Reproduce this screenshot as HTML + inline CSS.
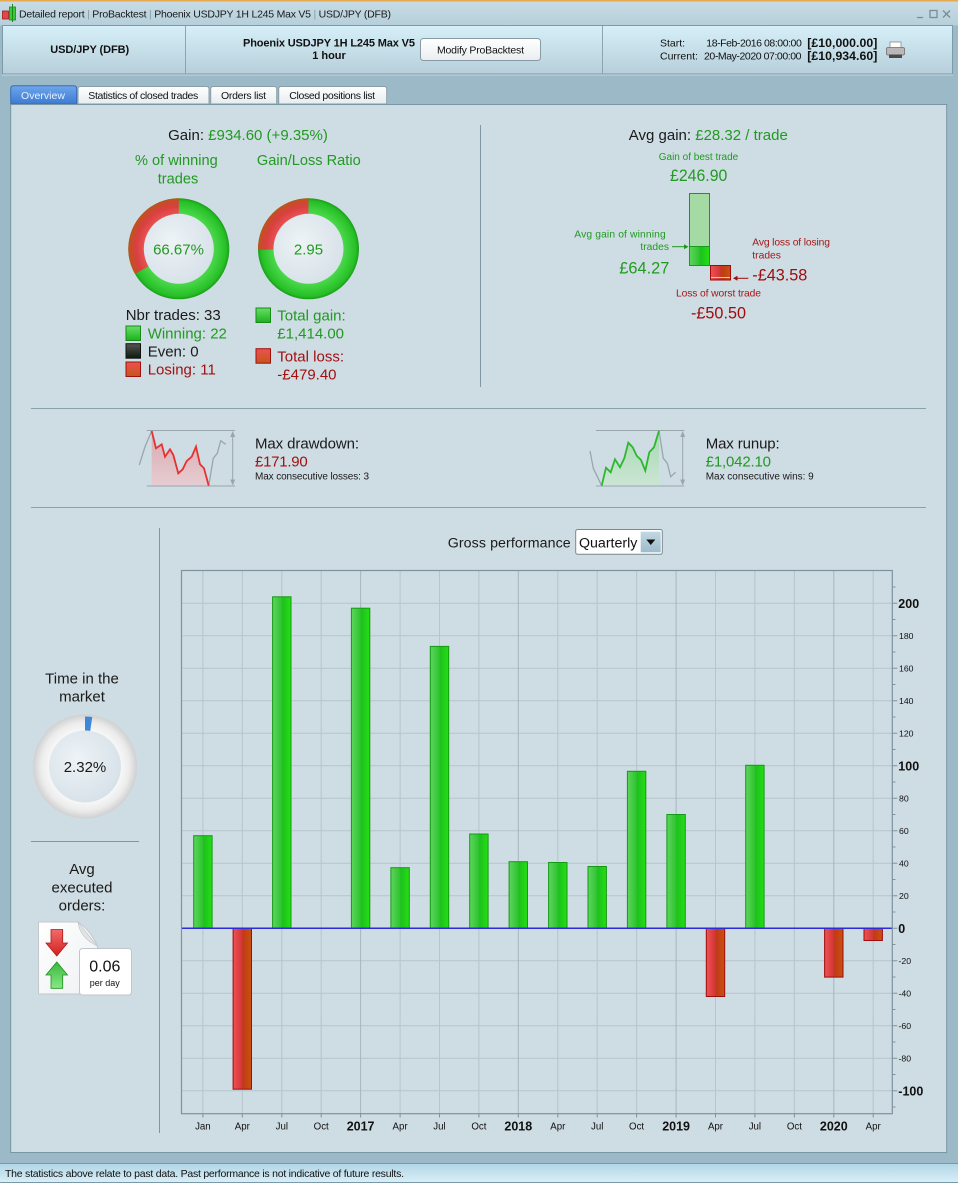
<!DOCTYPE html>
<html><head><meta charset="utf-8"><title>Detailed report</title>
<style>
html,body{margin:0;padding:0;background:#9cb9c7;width:958px;height:1183px;overflow:hidden;}
svg{display:block;font-family:"Liberation Sans",Arial,sans-serif;}
</style></head><body>
<svg width="958" height="1183" viewBox="0 0 958 1183" xmlns="http://www.w3.org/2000/svg">
<defs>
<linearGradient id="gTitle" x1="0" y1="0" x2="0" y2="1"><stop offset="0" stop-color="#c8dde6"/><stop offset="1" stop-color="#b6cfda"/></linearGradient>
<linearGradient id="gHdr" x1="0" y1="0" x2="0" y2="1"><stop offset="0" stop-color="#d6eff8"/><stop offset="1" stop-color="#b6cfda"/></linearGradient>
<linearGradient id="gBtn" x1="0" y1="0" x2="0" y2="1"><stop offset="0" stop-color="#ffffff"/><stop offset="1" stop-color="#eaeef0"/></linearGradient>
<linearGradient id="gTabB" x1="0" y1="0" x2="0" y2="1"><stop offset="0" stop-color="#6ea6ec"/><stop offset="1" stop-color="#3c7bd2"/></linearGradient>
<linearGradient id="gTabW" x1="0" y1="0" x2="0" y2="1"><stop offset="0" stop-color="#ffffff"/><stop offset="1" stop-color="#e6ecef"/></linearGradient>
<linearGradient id="gStatus" x1="0" y1="0" x2="0" y2="1"><stop offset="0" stop-color="#b2d6e6"/><stop offset="1" stop-color="#d8eef7"/></linearGradient>
<linearGradient id="gSel" x1="0" y1="0" x2="0" y2="1"><stop offset="0" stop-color="#c2d8e2"/><stop offset="1" stop-color="#9dbccb"/></linearGradient>
<linearGradient id="gGB" x1="0" y1="0" x2="1" y2="0"><stop offset="0" stop-color="#5cd65c"/><stop offset="0.45" stop-color="#34c434"/><stop offset="0.55" stop-color="#1cc21c"/><stop offset="1" stop-color="#26de14"/></linearGradient>
<linearGradient id="gRB" x1="0" y1="0" x2="1" y2="0"><stop offset="0" stop-color="#ee5252"/><stop offset="0.45" stop-color="#d43838"/><stop offset="0.55" stop-color="#c03a18"/><stop offset="1" stop-color="#c9520e"/></linearGradient>
<linearGradient id="gSqG" x1="0" y1="0" x2="0" y2="1"><stop offset="0" stop-color="#66e066"/><stop offset="1" stop-color="#1eb01e"/></linearGradient>
<linearGradient id="gSqK" x1="0" y1="0" x2="0" y2="1"><stop offset="0" stop-color="#555"/><stop offset="1" stop-color="#0c1a0c"/></linearGradient>
<linearGradient id="gSqR" x1="0" y1="0" x2="0" y2="1"><stop offset="0" stop-color="#ee5050"/><stop offset="1" stop-color="#c4561a"/></linearGradient>
<radialGradient id="gRing1" gradientUnits="userSpaceOnUse" cx="178.8" cy="248.8" r="50.5"><stop offset="0.69" stop-color="#4cd84c"/><stop offset="0.82" stop-color="#38cc38"/><stop offset="0.94" stop-color="#26bf26"/><stop offset="1" stop-color="#1a9e1a"/></radialGradient>
<radialGradient id="gRed1" gradientUnits="userSpaceOnUse" cx="178.8" cy="248.8" r="50.5"><stop offset="0.69" stop-color="#ea5252"/><stop offset="0.85" stop-color="#d84040"/><stop offset="1" stop-color="#c0521c"/></radialGradient>
<radialGradient id="gRing2" gradientUnits="userSpaceOnUse" cx="308.5" cy="248.8" r="50.5"><stop offset="0.69" stop-color="#4cd84c"/><stop offset="0.82" stop-color="#38cc38"/><stop offset="0.94" stop-color="#26bf26"/><stop offset="1" stop-color="#1a9e1a"/></radialGradient>
<radialGradient id="gRed2" gradientUnits="userSpaceOnUse" cx="308.5" cy="248.8" r="50.5"><stop offset="0.69" stop-color="#ea5252"/><stop offset="0.85" stop-color="#d84040"/><stop offset="1" stop-color="#c0521c"/></radialGradient>
<radialGradient id="gInner" cx="0.4" cy="0.4" r="0.65"><stop offset="0" stop-color="#eef3f6"/><stop offset="1" stop-color="#d6e1e8"/></radialGradient>
<radialGradient id="gRingT" gradientUnits="userSpaceOnUse" cx="85" cy="766.5" r="52"><stop offset="0.69" stop-color="#f7f7f7"/><stop offset="0.85" stop-color="#ececec"/><stop offset="1" stop-color="#d0d0d0"/></radialGradient>
<linearGradient id="gDD" x1="0" y1="0" x2="0" y2="1"><stop offset="0" stop-color="#d8a8b0"/><stop offset="1" stop-color="#e6cdd1"/></linearGradient>
<linearGradient id="gRU" x1="0" y1="0" x2="0" y2="1"><stop offset="0" stop-color="#a6d8b2"/><stop offset="1" stop-color="#cbe6d4"/></linearGradient>
<linearGradient id="gArrR" x1="0" y1="0" x2="0" y2="1"><stop offset="0" stop-color="#f26a6a"/><stop offset="1" stop-color="#d42020"/></linearGradient>
<linearGradient id="gArrG" x1="0" y1="0" x2="0" y2="1"><stop offset="0" stop-color="#3cb83c"/><stop offset="1" stop-color="#86e886"/></linearGradient>
<linearGradient id="gDoc" x1="0" y1="0" x2="1" y2="1"><stop offset="0" stop-color="#ffffff"/><stop offset="1" stop-color="#eef0f2"/></linearGradient>
<clipPath id="plotClip"><rect x="181.5" y="570.5" width="710.8" height="543.2"/></clipPath>
</defs>

<!-- window background -->
<rect x="0" y="0" width="958" height="1183" fill="#9cb9c7"/>

<!-- title bar -->
<rect x="0" y="0" width="958" height="25.5" fill="url(#gTitle)"/>
<rect x="0" y="0" width="958" height="1.5" fill="#e8a850"/>
<rect x="2.5" y="11" width="6" height="8" fill="#e04848" stroke="#a01818" stroke-width="0.8"/>
<rect x="9.5" y="7" width="6" height="13" fill="#3cc83c" stroke="#188a18" stroke-width="0.8"/>
<line x1="12.5" y1="4" x2="12.5" y2="22" stroke="#188a18" stroke-width="1"/>
<text x="19" y="17.5" font-size="10.5" fill="#1a1a1a" textLength="372" lengthAdjust="spacing">Detailed report <tspan fill="#8a9aa2">|</tspan> ProBacktest <tspan fill="#8a9aa2">|</tspan> Phoenix USDJPY 1H L245 Max V5 <tspan fill="#8a9aa2">|</tspan> USD/JPY (DFB)</text>
<g stroke="#7b8c96" stroke-width="1.3" fill="none">
<line x1="917" y1="17.5" x2="923" y2="17.5"/>
<rect x="930" y="10.5" width="7" height="7"/>
<line x1="943" y1="10.5" x2="950" y2="17.5"/><line x1="950" y1="10.5" x2="943" y2="17.5"/>
</g>

<!-- header row -->
<rect x="2.5" y="25.5" width="950" height="48.5" fill="url(#gHdr)" stroke="#7d9aa8" stroke-width="1"/>
<line x1="185.5" y1="26" x2="185.5" y2="74" stroke="#8aa4b0" stroke-width="1"/>
<line x1="602.5" y1="26" x2="602.5" y2="74" stroke="#8aa4b0" stroke-width="1"/>
<line x1="2" y1="75" x2="953" y2="75" stroke="#c8dce5" stroke-width="1"/>
<text x="89.7" y="53" font-size="11" font-weight="bold" fill="#111" text-anchor="middle" textLength="79" lengthAdjust="spacing">USD/JPY (DFB)</text>
<text x="329" y="46.5" font-size="11" font-weight="bold" fill="#111" text-anchor="middle" textLength="172" lengthAdjust="spacing">Phoenix USDJPY 1H L245 Max V5</text>
<text x="329" y="59" font-size="11" font-weight="bold" fill="#111" text-anchor="middle">1 hour</text>
<rect x="420.5" y="38.5" width="120" height="22" rx="3" fill="url(#gBtn)" stroke="#8a9aa4" stroke-width="1"/>
<text x="480.5" y="53.3" font-size="10.5" fill="#111" text-anchor="middle" textLength="87" lengthAdjust="spacing">Modify ProBacktest</text>
<text x="660" y="46.5" font-size="10.5" fill="#111">Start:</text>
<text x="706.3" y="46.5" font-size="10.5" fill="#111" textLength="95.5" lengthAdjust="spacing">18-Feb-2016 08:00:00</text>
<text x="807.3" y="47" font-size="12.3" font-weight="bold" fill="#111" textLength="70" lengthAdjust="spacing">[£10,000.00]</text>
<text x="660" y="59.3" font-size="10.5" fill="#111">Current:</text>
<text x="704" y="59.3" font-size="10.5" fill="#111" textLength="97.5" lengthAdjust="spacing">20-May-2020 07:00:00</text>
<text x="807.3" y="59.8" font-size="12.3" font-weight="bold" fill="#111" textLength="70" lengthAdjust="spacing">[£10,934.60]</text>
<!-- printer -->
<rect x="890" y="42" width="11" height="6" fill="#fff" stroke="#8a8a8a" stroke-width="0.8"/>
<rect x="886.5" y="47.5" width="18" height="7.5" rx="1.5" fill="#b8b8b8" stroke="#6e6e6e" stroke-width="0.8"/>
<rect x="889" y="54.5" width="13" height="3.5" fill="#4a4a4a"/>

<!-- tabs -->
<path d="M10.7,104 V88.7 Q10.7,85.7 13.7,85.7 H73.7 Q76.7,85.7 76.7,88.7 V104 Z" fill="url(#gTabB)" stroke="#3a6cb0" stroke-width="1"/>
<text x="21" y="99" font-size="10.5" fill="#e8f0ff" textLength="44" lengthAdjust="spacing">Overview</text>
<path d="M78,104 V89 Q78,86.5 80.5,86.5 H206.5 Q209,86.5 209,89 V104 Z" fill="url(#gTabW)" stroke="#8a9ea8" stroke-width="1"/>
<text x="88.3" y="99" font-size="10.5" fill="#111" textLength="110" lengthAdjust="spacing">Statistics of closed trades</text>
<path d="M210.7,104 V89 Q210.7,86.5 213.2,86.5 H274.2 Q276.7,86.5 276.7,89 V104 Z" fill="url(#gTabW)" stroke="#8a9ea8" stroke-width="1"/>
<text x="221" y="99" font-size="10.5" fill="#111" textLength="45" lengthAdjust="spacing">Orders list</text>
<path d="M278.7,104 V89 Q278.7,86.5 281.2,86.5 H384.2 Q386.7,86.5 386.7,89 V104 Z" fill="url(#gTabW)" stroke="#8a9ea8" stroke-width="1"/>
<text x="289.3" y="99" font-size="10.5" fill="#111" textLength="85.7" lengthAdjust="spacing">Closed positions list</text>

<!-- main panel -->
<rect x="10.7" y="104.5" width="936" height="1048" fill="#cedce3" stroke="#7896a4" stroke-width="1"/>

<!-- status bar -->
<line x1="0" y1="1163.5" x2="958" y2="1163.5" stroke="#7b98a6" stroke-width="1"/>
<rect x="0" y="1164" width="958" height="18" fill="url(#gStatus)"/>
<line x1="0" y1="1182.5" x2="958" y2="1182.5" stroke="#7b98a6" stroke-width="1"/>
<text x="5" y="1177" font-size="10.5" fill="#111" textLength="399" lengthAdjust="spacing">The statistics above relate to past data. Past performance is not indicative of future results.</text>

<!-- ======= Top-left stats ======= -->
<text x="248" y="140" font-size="15" fill="#1a1a1a" text-anchor="middle">Gain: <tspan fill="#219a21">£934.60 (+9.35%)</tspan></text>
<text x="176.4" y="165" font-size="14.6" fill="#219a21" text-anchor="middle">% of winning</text>
<text x="178" y="183.5" font-size="14.6" fill="#219a21" text-anchor="middle">trades</text>
<text x="308.8" y="165" font-size="14.6" fill="#219a21" text-anchor="middle">Gain/Loss Ratio</text>

<!-- donut 1 -->
<circle cx="178.8" cy="248.8" r="50.5" fill="url(#gRing1)"/>
<path d="M178.8,248.8 L135.07,274.05 A50.5,50.5 0 0 1 178.8,198.3 Z" fill="url(#gRed1)"/>
<circle cx="178.8" cy="248.8" r="35" fill="url(#gInner)"/>
<text x="178.5" y="254.5" font-size="15" fill="#219a21" text-anchor="middle">66.67%</text>
<!-- donut 2 -->
<circle cx="308.5" cy="248.8" r="50.5" fill="url(#gRing2)"/>
<path d="M308.5,248.8 L258.01,249.86 A50.5,50.5 0 0 1 308.5,198.3 Z" fill="url(#gRed2)"/>
<circle cx="308.5" cy="248.8" r="35" fill="url(#gInner)"/>
<text x="308.5" y="254.5" font-size="15" fill="#219a21" text-anchor="middle">2.95</text>

<text x="125.7" y="320" font-size="15" fill="#1a1a1a">Nbr trades: 33</text>
<rect x="126" y="326" width="14.5" height="14.5" fill="url(#gSqG)" stroke="#188a18" stroke-width="1"/>
<text x="147.7" y="338.3" font-size="15" fill="#219a21">Winning: 22</text>
<rect x="126" y="343.7" width="14.5" height="14.5" fill="url(#gSqK)" stroke="#111" stroke-width="1"/>
<text x="147.7" y="356.7" font-size="15" fill="#1a1a1a">Even: 0</text>
<rect x="126" y="362" width="14.5" height="14.5" fill="url(#gSqR)" stroke="#a01010" stroke-width="1"/>
<text x="147.7" y="374.3" font-size="15" fill="#a31010">Losing: 11</text>

<rect x="256" y="308" width="14.5" height="14.5" fill="url(#gSqG)" stroke="#188a18" stroke-width="1"/>
<text x="277.3" y="320.7" font-size="15" fill="#219a21">Total gain:</text>
<text x="277.3" y="338.3" font-size="15" fill="#219a21">£1,414.00</text>
<rect x="256" y="348.7" width="14.5" height="14.5" fill="url(#gSqR)" stroke="#a01010" stroke-width="1"/>
<text x="277.3" y="361.7" font-size="15" fill="#a31010">Total loss:</text>
<text x="277.3" y="379.3" font-size="15" fill="#a31010">-£479.40</text>

<!-- divider vertical -->
<line x1="480.5" y1="125" x2="480.5" y2="387" stroke="#7f98a4" stroke-width="1"/>

<!-- ======= Avg gain ======= -->
<text x="708.3" y="140" font-size="15" fill="#1a1a1a" text-anchor="middle">Avg gain: <tspan fill="#219a21">£28.32 / trade</tspan></text>
<text x="698.5" y="160" font-size="10" fill="#219a21" text-anchor="middle">Gain of best trade</text>
<text x="698.7" y="181" font-size="17" fill="#219a21" text-anchor="middle" textLength="57.3" lengthAdjust="spacingAndGlyphs">£246.90</text>
<rect x="689.5" y="193.5" width="20" height="53" fill="#a4dba4" stroke="#1a9a1a" stroke-width="1"/>
<rect x="689.5" y="246.5" width="20" height="19" fill="url(#gGB)" stroke="#1a9a1a" stroke-width="1"/>
<rect x="710.5" y="265.5" width="20" height="14.5" fill="url(#gRB)" stroke="#a00c0c" stroke-width="1"/>
<line x1="711" y1="277.5" x2="730" y2="277.5" stroke="#f2c0c0" stroke-width="1"/>
<line x1="672" y1="246.7" x2="685" y2="246.7" stroke="#1a9a1a" stroke-width="1"/>
<path d="M688.5,246.7 L684,244.2 L684,249.2 Z" fill="#1a9a1a"/>
<text x="574.3" y="237.7" font-size="10.3" fill="#219a21" textLength="91.4" lengthAdjust="spacing">Avg gain of winning</text>
<text x="669" y="250" font-size="10.3" fill="#219a21" text-anchor="end">trades</text>
<text x="619.3" y="273.3" font-size="17" fill="#219a21" textLength="50" lengthAdjust="spacingAndGlyphs">£64.27</text>
<text x="752.3" y="245.7" font-size="10.3" fill="#a31818" textLength="77.7" lengthAdjust="spacing">Avg loss of losing</text>
<text x="752.3" y="258.3" font-size="10.3" fill="#a31818">trades</text>
<line x1="737" y1="278.3" x2="748.3" y2="278.3" stroke="#a00c0c" stroke-width="1"/>
<path d="M733,278.3 L737.5,275.8 L737.5,280.8 Z" fill="#a00c0c"/>
<text x="752.3" y="280.7" font-size="17" fill="#a00c0c" textLength="55" lengthAdjust="spacingAndGlyphs">-£43.58</text>
<text x="718.5" y="296.7" font-size="10.3" fill="#a31818" text-anchor="middle" textLength="85" lengthAdjust="spacing">Loss of worst trade</text>
<text x="718.5" y="318.3" font-size="17" fill="#a00c0c" text-anchor="middle" textLength="55" lengthAdjust="spacingAndGlyphs">-£50.50</text>

<!-- horizontal dividers -->
<line x1="31" y1="408.5" x2="926" y2="408.5" stroke="#8aa0ab" stroke-width="1"/>
<line x1="31" y1="507.5" x2="926" y2="507.5" stroke="#8aa0ab" stroke-width="1"/>

<!-- ======= Drawdown ======= -->
<path d="M151.7,431 L156,448.3 L161.7,444.3 L165,456.7 L170,449.3 L173.3,455 L178.3,473.3 L182.7,469.3 L186.7,461 L191.7,456.7 L196,446.7 L200,464.3 L204,468.3 L208.7,485.7 L208.7,486 L151.7,486 Z" fill="url(#gDD)"/>
<g stroke="#9aa6ac" stroke-width="1" fill="none">
<line x1="146.7" y1="430.5" x2="235" y2="430.5"/>
<line x1="146.7" y1="486" x2="235" y2="486"/>
<line x1="232.7" y1="434" x2="232.7" y2="483"/>
<polyline points="139.3,465 145,446.7 151.7,431" stroke-width="1.3"/>
<polyline points="208.7,485.7 213.3,458.3 217.3,453.3 220.7,440.7 225.7,444.3" stroke-width="1.3"/>
</g>
<path d="M232.7,431 L230.2,437 L235.2,437 Z M232.7,485.5 L230.2,479.5 L235.2,479.5 Z" fill="#9aa6ac"/>
<polyline points="151.7,431 156,448.3 161.7,444.3 165,456.7 170,449.3 173.3,455 178.3,473.3 182.7,469.3 186.7,461 191.7,456.7 196,446.7 200,464.3 204,468.3 208.7,485.7" fill="none" stroke="#e83030" stroke-width="1.8"/>
<text x="255" y="448.3" font-size="15" fill="#1a1a1a" textLength="104" lengthAdjust="spacing">Max drawdown:</text>
<text x="255" y="466.7" font-size="15" fill="#a31010" textLength="52.7" lengthAdjust="spacing">£171.90</text>
<text x="255" y="479.3" font-size="10" fill="#1a1a1a" textLength="114" lengthAdjust="spacing">Max consecutive losses: 3</text>

<!-- ======= Runup ======= -->
<path d="M601.7,485.7 L606,467.7 L610.7,472.3 L615,459.3 L620,467.3 L624.3,458.3 L628.3,442.7 L632.7,447.3 L636.7,455.7 L641,460 L645.3,470.7 L649.3,452.3 L654,447.3 L659,430.7 L659,486 L601.7,486 Z" fill="url(#gRU)"/>
<g stroke="#9aa6ac" stroke-width="1" fill="none">
<line x1="596" y1="430.5" x2="684.3" y2="430.5"/>
<line x1="596" y1="486" x2="684.3" y2="486"/>
<line x1="682.7" y1="434" x2="682.7" y2="483"/>
<polyline points="590,451 593.3,468.3 601.7,485.7" stroke-width="1.3"/>
<polyline points="659,430.7 663.3,458.3 667.3,463.3 670.7,476.7 675.7,472.3" stroke-width="1.3"/>
</g>
<path d="M682.7,431 L680.2,437 L685.2,437 Z M682.7,485.5 L680.2,479.5 L685.2,479.5 Z" fill="#9aa6ac"/>
<polyline points="601.7,485.7 606,467.7 610.7,472.3 615,459.3 620,467.3 624.3,458.3 628.3,442.7 632.7,447.3 636.7,455.7 641,460 645.3,470.7 649.3,452.3 654,447.3 659,430.7" fill="none" stroke="#2cb82c" stroke-width="1.8"/>
<text x="705.7" y="448.3" font-size="15" fill="#1a1a1a" textLength="74" lengthAdjust="spacing">Max runup:</text>
<text x="705.7" y="466.7" font-size="15" fill="#219a21" textLength="65.3" lengthAdjust="spacing">£1,042.10</text>
<text x="705.7" y="479.3" font-size="10" fill="#1a1a1a" textLength="108" lengthAdjust="spacing">Max consecutive wins: 9</text>

<!-- ======= Left column ======= -->
<line x1="159.5" y1="528" x2="159.5" y2="1133" stroke="#7d98a5" stroke-width="1"/>
<text x="82" y="683.3" font-size="15" fill="#1a1a1a" text-anchor="middle">Time in the</text>
<text x="82" y="701.7" font-size="15" fill="#1a1a1a" text-anchor="middle">market</text>
<circle cx="85" cy="766.5" r="52" fill="url(#gRingT)"/>
<path d="M85,766.5 L85,716.5 A50,50 0 0 1 92.26,717.03 Z" fill="#3f88d8"/>
<circle cx="85" cy="766.5" r="36" fill="url(#gInner)"/>
<text x="85" y="772" font-size="15" fill="#1a1a1a" text-anchor="middle">2.32%</text>
<line x1="31" y1="841.5" x2="139" y2="841.5" stroke="#7d98a5" stroke-width="1"/>
<text x="82" y="874" font-size="15" fill="#1a1a1a" text-anchor="middle">Avg</text>
<text x="82" y="892.7" font-size="15" fill="#1a1a1a" text-anchor="middle">executed</text>
<text x="82" y="910.7" font-size="15" fill="#1a1a1a" text-anchor="middle">orders:</text>
<!-- doc icon -->
<path d="M38.5,922 H78 Q90,930 97.5,946 V994 H38.5 Z" fill="url(#gDoc)" stroke="#c4c8cc" stroke-width="1"/>
<path d="M78,922 Q80,938 97.5,946 Q88,935 78,922 Z" fill="#e2e4e6" stroke="#c4c8cc" stroke-width="0.8"/>
<path d="M51,929.5 H62.7 V943 H67.5 L56.8,956 L46,943 H51 Z" fill="url(#gArrR)" stroke="#b01818" stroke-width="0.8"/>
<path d="M56.8,962 L67.5,975 H62.7 V988.3 H51 V975 H46 Z" fill="url(#gArrG)" stroke="#1f8f1f" stroke-width="0.8"/>
<rect x="79.5" y="948.5" width="52" height="46.5" rx="3" fill="#ffffff" stroke="#bfc7cc" stroke-width="1"/>
<text x="104.8" y="971.7" font-size="16" fill="#111" text-anchor="middle">0.06</text>
<text x="104.8" y="985.8" font-size="9" fill="#111" text-anchor="middle">per day</text>

<!-- ======= Gross performance ======= -->
<text x="447.7" y="547.3" font-size="14.2" fill="#1a1a1a" textLength="123" lengthAdjust="spacing">Gross performance</text>
<rect x="575.7" y="529.5" width="86.6" height="24.8" rx="2" fill="#ffffff" stroke="#7a8a92" stroke-width="1"/>
<text x="579" y="547.3" font-size="14.2" fill="#111">Quarterly</text>
<rect x="640.7" y="531.7" width="20" height="20.6" fill="url(#gSel)"/>
<path d="M646.3,539.5 H655.3 L650.8,545 Z" fill="#111"/>

<!-- chart grid -->
<g clip-path="url(#plotClip)">
<path d="M181.5,603.3H892M181.5,635.8H892M181.5,668.3H892M181.5,700.8H892M181.5,733.3H892M181.5,765.8H892M181.5,798.3H892M181.5,830.8H892M181.5,863.3H892M181.5,895.8H892M181.5,960.8H892M181.5,993.3H892M181.5,1025.8H892M181.5,1058.3H892M181.5,1090.8H892" stroke="#b6c5cc" stroke-width="1" fill="none"/>
<path d="M202.9,570V1114M242.3,570V1114M281.8,570V1114M321.2,570V1114M400.1,570V1114M439.5,570V1114M478.9,570V1114M557.8,570V1114M597.2,570V1114M636.6,570V1114M715.5,570V1114M754.9,570V1114M794.4,570V1114M873.2,570V1114" stroke="#b6c5cc" stroke-width="1" fill="none"/>
<path d="M360.6,570V1114M518.3,570V1114M676.1,570V1114M833.8,570V1114" stroke="#a6b6be" stroke-width="1" fill="none"/>
</g>

<!-- bars -->
<g stroke-width="1">
<rect x="193.7" y="835.7" width="18.4" height="92.6" fill="url(#gGB)" stroke="#139a13"/>
<rect x="233.1" y="928.3" width="18.4" height="160.9" fill="url(#gRB)" stroke="#a00c0c"/>
<rect x="272.6" y="596.8" width="18.4" height="331.5" fill="url(#gGB)" stroke="#139a13"/>
<rect x="351.4" y="608.2" width="18.4" height="320.1" fill="url(#gGB)" stroke="#139a13"/>
<rect x="390.9" y="867.7" width="18.4" height="60.6" fill="url(#gGB)" stroke="#139a13"/>
<rect x="430.3" y="646.4" width="18.4" height="281.9" fill="url(#gGB)" stroke="#139a13"/>
<rect x="469.7" y="834" width="18.4" height="94.3" fill="url(#gGB)" stroke="#139a13"/>
<rect x="509.1" y="861.7" width="18.4" height="66.6" fill="url(#gGB)" stroke="#139a13"/>
<rect x="548.6" y="862.5" width="18.4" height="65.8" fill="url(#gGB)" stroke="#139a13"/>
<rect x="588" y="866.5" width="18.4" height="61.8" fill="url(#gGB)" stroke="#139a13"/>
<rect x="627.4" y="771.3" width="18.4" height="157" fill="url(#gGB)" stroke="#139a13"/>
<rect x="666.9" y="814.5" width="18.4" height="113.8" fill="url(#gGB)" stroke="#139a13"/>
<rect x="706.3" y="928.3" width="18.4" height="68.2" fill="url(#gRB)" stroke="#a00c0c"/>
<rect x="745.7" y="765.3" width="18.4" height="163" fill="url(#gGB)" stroke="#139a13"/>
<rect x="824.6" y="928.3" width="18.4" height="48.8" fill="url(#gRB)" stroke="#a00c0c"/>
<rect x="864" y="928.3" width="18.4" height="12.2" fill="url(#gRB)" stroke="#a00c0c"/>
</g>
<line x1="181.5" y1="928.3" x2="892.3" y2="928.3" stroke="#2b2bdc" stroke-width="1.5"/>

<!-- frame -->
<rect x="181.5" y="570.5" width="710.8" height="543.2" fill="none" stroke="#7d939e" stroke-width="1.2"/>

<!-- y ticks -->
<path d="M892.3,587.05h3.2M892.3,619.55h3.2M892.3,652.05h3.2M892.3,684.55h3.2M892.3,717.05h3.2M892.3,749.55h3.2M892.3,782.05h3.2M892.3,814.55h3.2M892.3,847.05h3.2M892.3,879.55h3.2M892.3,912.05h3.2M892.3,944.55h3.2M892.3,977.05h3.2M892.3,1009.55h3.2M892.3,1042.05h3.2M892.3,1074.55h3.2M892.3,1107.05h3.2" stroke="#7d939e" stroke-width="1"/>
<path d="M892.3,603.3h5M892.3,635.8h5M892.3,668.3h5M892.3,700.8h5M892.3,733.3h5M892.3,765.8h5M892.3,798.3h5M892.3,830.8h5M892.3,863.3h5M892.3,895.8h5M892.3,928.3h5M892.3,960.8h5M892.3,993.3h5M892.3,1025.8h5M892.3,1058.3h5M892.3,1090.8h5" stroke="#7d939e" stroke-width="1"/>
<g font-size="12.5" font-weight="bold" fill="#111">
<text x="898.3" y="607.8">200</text>
<text x="898.3" y="770.3">100</text>
<text x="898.3" y="932.8">0</text>
<text x="898.3" y="1095.3">-100</text>
</g>
<g font-size="8.7" fill="#111">
<text x="899" y="638.9">180</text>
<text x="899" y="671.4">160</text>
<text x="899" y="703.9">140</text>
<text x="899" y="736.4">120</text>
<text x="899" y="801.4">80</text>
<text x="899" y="833.9">60</text>
<text x="899" y="866.4">40</text>
<text x="899" y="898.9">20</text>
<text x="898.5" y="963.9">-20</text>
<text x="898.5" y="996.4">-40</text>
<text x="898.5" y="1028.9">-60</text>
<text x="898.5" y="1061.4">-80</text>
</g>

<!-- x ticks -->
<path d="M202.9,1114v3.5M242.3,1114v3.5M281.8,1114v3.5M321.2,1114v3.5M360.6,1114v3.5M400.1,1114v3.5M439.5,1114v3.5M478.9,1114v3.5M518.3,1114v3.5M557.8,1114v3.5M597.2,1114v3.5M636.6,1114v3.5M676.1,1114v3.5M715.5,1114v3.5M754.9,1114v3.5M794.4,1114v3.5M833.8,1114v3.5M873.2,1114v3.5" stroke="#7d939e" stroke-width="1"/>
<g font-size="9.7" fill="#111" text-anchor="middle">
<text x="202.9" y="1129.5">Jan</text>
<text x="242.3" y="1129.5">Apr</text>
<text x="281.8" y="1129.5">Jul</text>
<text x="321.2" y="1129.5">Oct</text>
<text x="400.1" y="1129.5">Apr</text>
<text x="439.5" y="1129.5">Jul</text>
<text x="478.9" y="1129.5">Oct</text>
<text x="557.8" y="1129.5">Apr</text>
<text x="597.2" y="1129.5">Jul</text>
<text x="636.6" y="1129.5">Oct</text>
<text x="715.5" y="1129.5">Apr</text>
<text x="754.9" y="1129.5">Jul</text>
<text x="794.4" y="1129.5">Oct</text>
<text x="873.2" y="1129.5">Apr</text>
</g>
<g font-size="12.5" font-weight="bold" fill="#111" text-anchor="middle">
<text x="360.6" y="1130.5">2017</text>
<text x="518.3" y="1130.5">2018</text>
<text x="676.1" y="1130.5">2019</text>
<text x="833.8" y="1130.5">2020</text>
</g>
</svg>
</body></html>
